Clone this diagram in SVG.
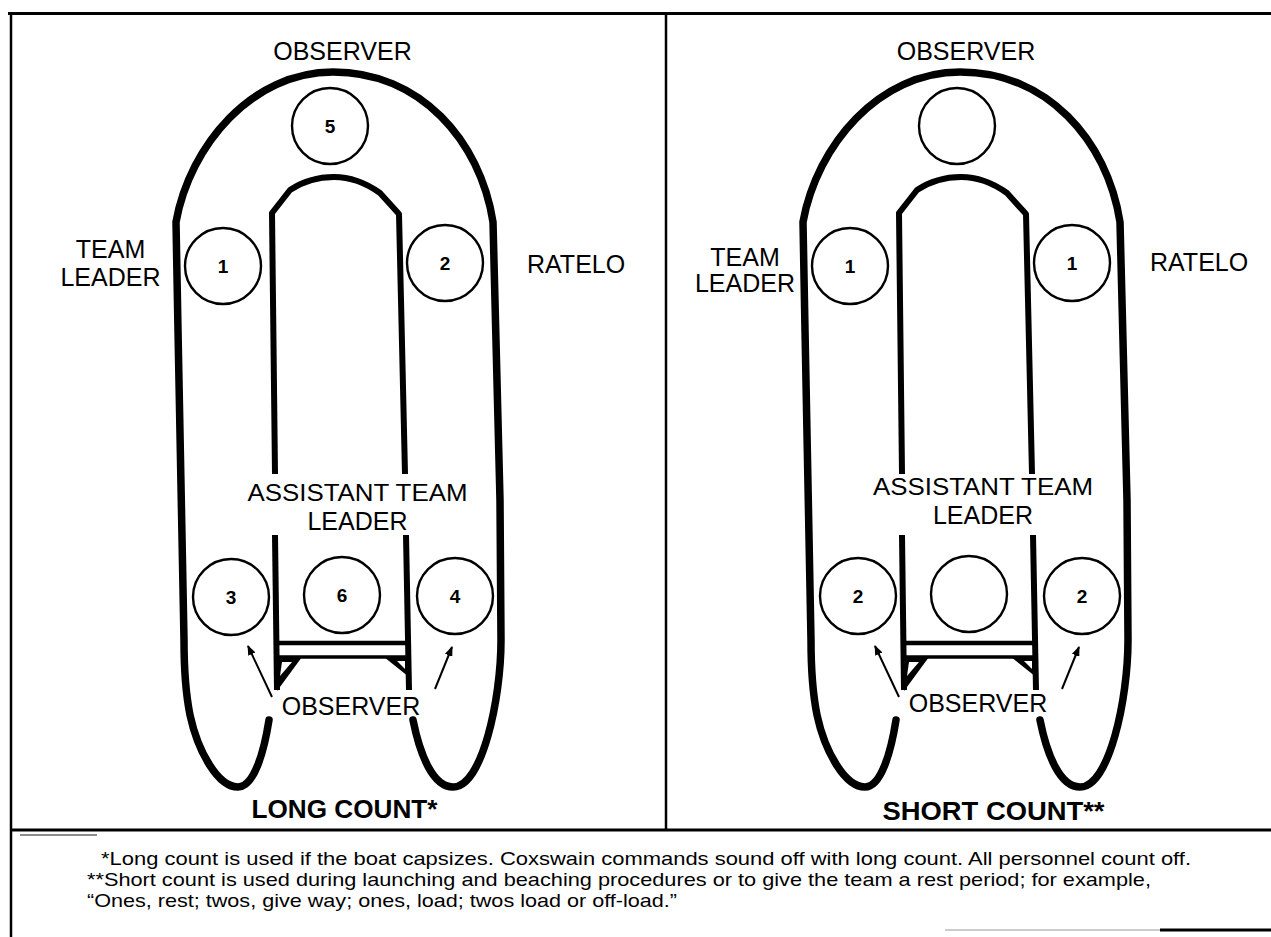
<svg xmlns="http://www.w3.org/2000/svg" width="1271" height="937" viewBox="0 0 1271 937">
<style>
.lbl{font-family:"Liberation Sans",Arial,Helvetica,sans-serif;font-size:25px;fill:#000}
.mid{text-anchor:middle}
.num{font-family:"Liberation Sans",Arial,Helvetica,sans-serif;font-size:19px;font-weight:bold;text-anchor:middle;fill:#000}
.ttl{font-family:"Liberation Sans",Arial,Helvetica,sans-serif;font-size:25px;font-weight:bold;text-anchor:middle;fill:#000}
.note{font-family:"Liberation Sans",Arial,Helvetica,sans-serif;font-size:19px;fill:#000}
.hull{fill:none;stroke:#000;stroke-width:7.5;stroke-linecap:round;stroke-linejoin:round}
.inner{fill:none;stroke:#000;stroke-width:6;stroke-linecap:butt;stroke-linejoin:round}
.seat{fill:#fff;stroke:#000;stroke-width:2.4}
.arrow{fill:none;stroke:#000;stroke-width:2;marker-end:url(#ah)}
.frame{fill:none;stroke:#000}
</style>
<defs>
<marker id="ah" viewBox="0 0 10 8" refX="9" refY="4" markerWidth="5" markerHeight="4" orient="auto" markerUnits="strokeWidth">
<path d="M0,0 L10,4 L0,8 Z" fill="#000"/>
</marker>
<g id="boat">
<path class="hull" d="M269,720 C264,752 254,787 238,787 C218,787 198,752 190,715 C186,695 184,670 184,640 L178,330 L176,222 C190,145 252,72 333,72 C420,72 480,140 493,222 L500,500 L501,640 C501,700 482,787 453,787 C433,787 420,755 413,720"/>
<path class="inner" d="M275,474 L273,300 L272,213 L290,190 C305,180 320,177 334,177 C350,177 366,183 380,193 L399,214 L401,300 L405,474"/>
<path class="inner" d="M275,535 L277,690"/>
<path class="inner" d="M406,535 L409,690"/>
<path d="M275,643 L409,643" stroke="#000" stroke-width="4.5" fill="none"/>
<path d="M277,657 L409,657" stroke="#000" stroke-width="3.5" fill="none"/>
<polygon points="276,657 302,657 277,691" fill="#000"/>
<polygon points="282,662 292,662 280,676" fill="#fff"/>
<polygon points="384,657 409,657 409,677" fill="#000"/>
<polygon points="397,661 405,661 405,669" fill="#fff"/>
</g>
</defs>

<g id="frame">
<path class="frame" stroke-width="3" d="M8,13.5 H1271"/>
<path class="frame" stroke-width="2.5" d="M11,13 V937"/>
<path class="frame" stroke-width="2.5" d="M666,13 V830"/>
<path class="frame" stroke-width="3" d="M11,830 H1271"/>
<path fill="none" stroke="#666" stroke-width="1.5" d="M20,835 H97"/>
<path fill="none" stroke="#bbb" stroke-width="1.5" d="M945,930 H1160"/>
<path fill="none" stroke="#000" stroke-width="3" d="M1160,930 H1271"/>
</g>

<g id="long-count-panel">
<use href="#boat"/>
<g id="seat-5"><circle class="seat" cx="330" cy="126" r="38"/><text class="num" x="330" y="133">5</text></g>
<g id="seat-1"><circle class="seat" cx="223" cy="266" r="38"/><text class="num" x="223" y="273">1</text></g>
<g id="seat-2"><circle class="seat" cx="445" cy="263" r="38"/><text class="num" x="445" y="270">2</text></g>
<g id="seat-3"><circle class="seat" cx="231" cy="597" r="38"/><text class="num" x="231" y="604">3</text></g>
<g id="seat-6"><circle class="seat" cx="342" cy="595" r="38"/><text class="num" x="342" y="602">6</text></g>
<g id="seat-4"><circle class="seat" cx="455" cy="596" r="38"/><text class="num" x="455" y="603">4</text></g>
<text class="lbl mid" x="342.5" y="60">OBSERVER</text>
<text class="lbl mid" x="110.5" y="258">TEAM</text>
<text class="lbl mid" x="110.5" y="286">LEADER</text>
<text class="lbl" x="527" y="273">RATELO</text>
<text class="lbl mid" x="357.5" y="501" style="font-size:24px" textLength="220" lengthAdjust="spacingAndGlyphs">ASSISTANT TEAM</text>
<text class="lbl mid" x="357.5" y="530">LEADER</text>
<text class="lbl mid" x="351" y="715">OBSERVER</text>
<text class="ttl" x="344.5" y="818" textLength="186" lengthAdjust="spacingAndGlyphs">LONG COUNT*</text>
</g>

<g id="short-count-panel">
<use href="#boat" transform="translate(627,0)"/>
<g id="seat-top-r"><circle class="seat" cx="957" cy="126" r="38"/></g>
<g id="seat-1a-r"><circle class="seat" cx="850" cy="266" r="38"/><text class="num" x="850" y="273">1</text></g>
<g id="seat-1b-r"><circle class="seat" cx="1072" cy="263" r="38"/><text class="num" x="1072" y="270">1</text></g>
<g id="seat-2a-r"><circle class="seat" cx="858" cy="596" r="38"/><text class="num" x="858" y="603">2</text></g>
<g id="seat-mid-r"><circle class="seat" cx="969" cy="594" r="38"/></g>
<g id="seat-2b-r"><circle class="seat" cx="1082" cy="596" r="38"/><text class="num" x="1082" y="603">2</text></g>
<text class="lbl mid" x="966" y="60">OBSERVER</text>
<text class="lbl mid" x="745" y="266">TEAM</text>
<text class="lbl mid" x="745" y="292">LEADER</text>
<text class="lbl" x="1150" y="271">RATELO</text>
<text class="lbl mid" x="983" y="495" style="font-size:24px" textLength="220" lengthAdjust="spacingAndGlyphs">ASSISTANT TEAM</text>
<text class="lbl mid" x="983" y="524">LEADER</text>
<text class="lbl mid" x="978" y="712">OBSERVER</text>
<text class="ttl" x="993.5" y="820" textLength="222" lengthAdjust="spacingAndGlyphs">SHORT COUNT**</text>
</g>

<g id="connectors">
<path class="arrow" d="M272,697 L248,646"/>
<path class="arrow" d="M435,689 L452,647"/>
<path class="arrow" d="M899,697 L875,646"/>
<path class="arrow" d="M1062,689 L1079,647"/>
</g>

<g id="footnotes">
<text class="note" x="101" y="865" textLength="1090" lengthAdjust="spacingAndGlyphs">*Long count is used if the boat capsizes. Coxswain commands sound off with long count. All personnel count off.</text>
<text class="note" x="87" y="886" textLength="1064" lengthAdjust="spacingAndGlyphs">**Short count is used during launching and beaching procedures or to give the team a rest period; for example,</text>
<text class="note" x="87" y="907" textLength="590" lengthAdjust="spacingAndGlyphs">“Ones, rest; twos, give way; ones, load; twos load or off-load.”</text>
</g>
</svg>
